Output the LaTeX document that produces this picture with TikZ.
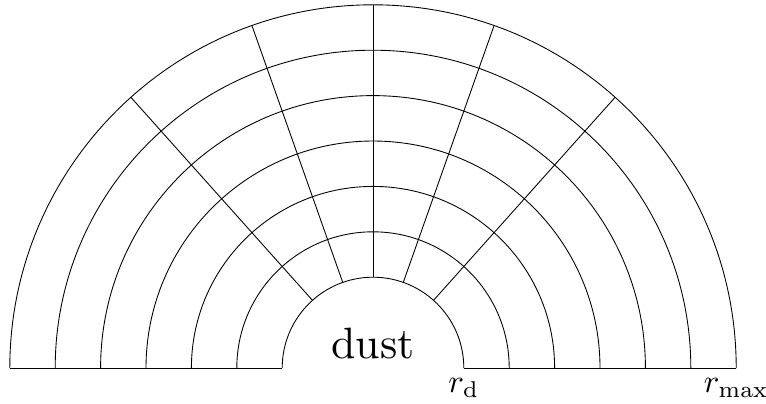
\documentclass[tikz,border=0pt]{standalone}
\usepackage{amsmath}
\usepackage{tikz}

\begin{document}
\begin{tikzpicture}[
  x=1cm,y=1cm,
  grid/.style={line width=0.55pt,black},
  lbl/.style={font=\normalsize,inner sep=3pt,scale=2.05,transform shape},
  bigtext/.style={font=\normalsize,inner sep=0pt,scale=2.75,transform shape}
]
  \useasboundingbox (-8.216,-0.771) rectangle (8.656,8.106);

  % shells between r_d and r_max
  \foreach \r in {2,...,8}
    \draw[grid] (\r,0) arc[start angle=0,end angle=180,radius=\r];
  \draw[grid] (-8,0) -- (-2,0);
  \draw[grid] (2,0) -- (8,0);

  % rays, equally spaced in mu = cos(theta)
  \foreach \m [evaluate=\m as \a using {acos(\m/3)}] in {-2,-1,0,1,2}
    \draw[grid] (\a:2) -- (\a:8);

  \node[bigtext,anchor=base] (dust) at (0,0.22) {dust};
  \node[lbl,anchor=north] (rd) at (2,0) {$r_{\mathrm{d}}$};
  \node[lbl,anchor=north] (rmax) at (8,0) {$r_{\max}$};
\end{tikzpicture}
\end{document}
